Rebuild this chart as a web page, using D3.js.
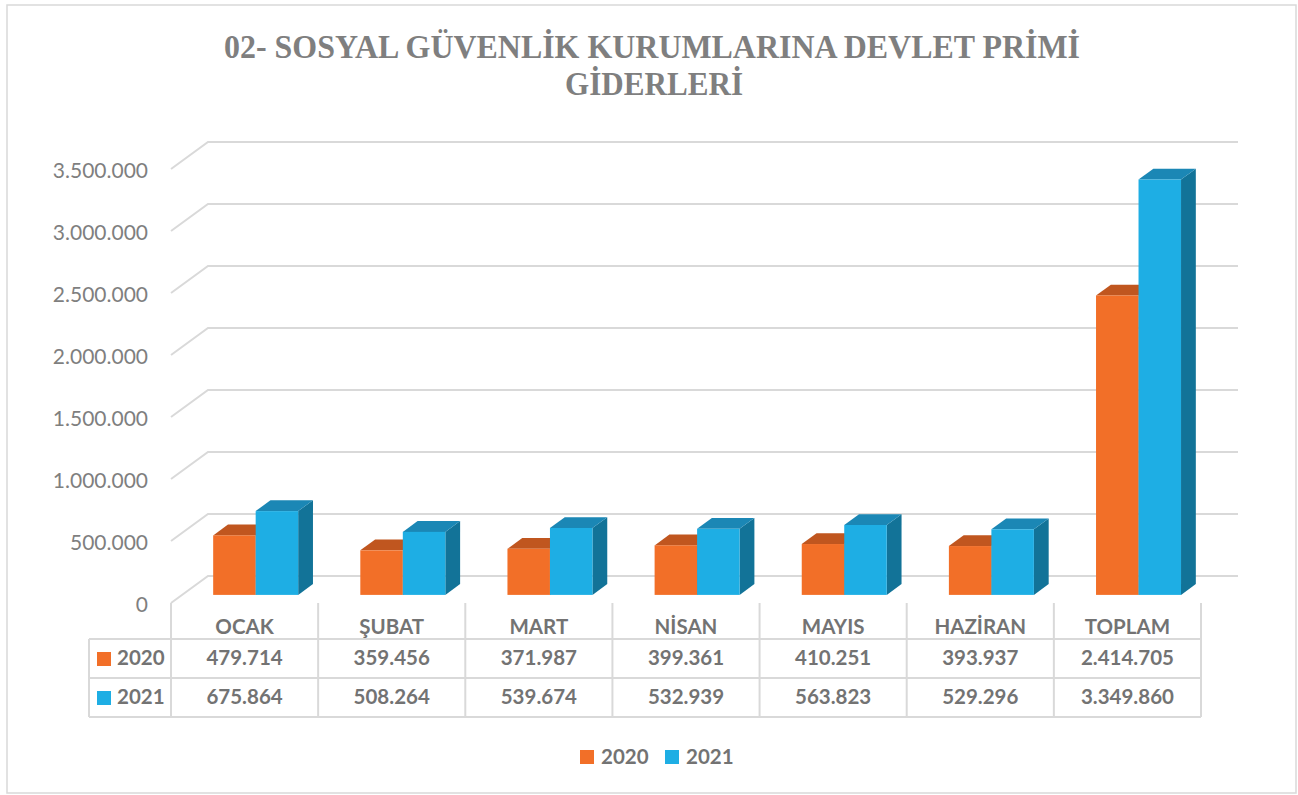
<!DOCTYPE html>
<html>
<head>
<meta charset="utf-8">
<script src="https://cdn.jsdelivr.net/npm/d3@7"></script>
<style>
  html, body { margin: 0; padding: 0; background: #ffffff; }
  svg { display: block; }
</style>
</head>
<body>
<svg id="chart" width="1298" height="795"></svg>
<script>
// ---------- DATA ----------
const categories = ["OCAK", "ŞUBAT", "MART", "NİSAN", "MAYIS", "HAZİRAN", "TOPLAM"];
const seriesNames = ["2020", "2021"];
const values2020 = [479714, 359456, 371987, 399361, 410251, 393937, 2414705];
const values2021 = [675864, 508264, 539674, 532939, 563823, 529296, 3349860];
const yTicks = [0, 500000, 1000000, 1500000, 2000000, 2500000, 3000000, 3500000];
const titleLines = ["02- SOSYAL GÜVENLİK KURUMLARINA DEVLET PRİMİ", "GİDERLERİ"];

// ---------- STYLE / LAYOUT ----------
const colors = {
  "2020": { front: "#F26F28", top: "#C0561F", side: "#B5501C" },
  "2021": { front: "#1EAEE4", top: "#1B87B5", side: "#127398" }
};
const gridColor = "#d9d9d9";
const textColor = "#737373";
const axisTextColor = "#7f7f7f";
const sans = "Lato, 'Open Sans', sans-serif";

const W = 1298, H = 795;
const x0 = 171, x1 = 1201;          // front plane extents
const yZero = 603, yTop = 169;      // front plane y for 0 and 3.5M
const DX = 37, DY = 27;             // depth offset of the back wall
const barFront = 0.3, barDepth = 0.4;

const svg = d3.select("#chart");

// outer border
svg.append("rect").attr("x", 7).attr("y", 5).attr("width", 1289).attr("height", 788)
  .attr("fill", "#fff").attr("stroke", gridColor).attr("stroke-width", 1.5);

// title
const title = svg.append("g").attr("fill", "#7f7f7f")
  .attr("font-family", "'Liberation Serif', 'Times New Roman', serif")
  .attr("font-weight", "bold").attr("font-size", 33).attr("text-anchor", "middle");
title.append("text").attr("x", 652).attr("y", 58).attr("textLength", 856)
  .attr("lengthAdjust", "spacingAndGlyphs").text(titleLines[0]);
title.append("text").attr("x", 654).attr("y", 95).attr("textLength", 178)
  .attr("lengthAdjust", "spacingAndGlyphs").text(titleLines[1]);

// scales
const y = d3.scaleLinear().domain([0, 3500000]).range([yZero, yTop]);
const x = d3.scaleBand().domain(categories).range([x0, x1]).padding(0);
const bw = 42.5;
const xs = d3.scaleBand().domain(seriesNames)
  .range([(x.bandwidth() - 2 * bw) / 2, (x.bandwidth() + 2 * bw) / 2]).padding(0);

const locale = d3.formatLocale({ decimal: ",", thousands: ".", grouping: [3], currency: ["", ""] });
const fmt = locale.format(",d");

// gridlines (floor + back wall)
const grid = svg.append("g");
yTicks.forEach(t => {
  const yy = y(t);
  grid.append("path")
    .attr("d", `M${x0},${yy} L${x0 + DX},${yy - DY} L${x1 + DX},${yy - DY}`)
    .attr("fill", "none").attr("stroke", gridColor).attr("stroke-width", 2);
});

// y axis labels
const yAxis = d3.axisLeft(y).tickValues(yTicks).tickFormat(fmt).tickSize(0).tickPadding(0);
const yg = svg.append("g").attr("transform", `translate(148,0)`).call(yAxis);
yg.select(".domain").remove();
yg.selectAll("text").attr("font-family", sans).attr("font-size", 21)
  .attr("fill", axisTextColor).attr("dy", null).attr("y", 8.5).attr("x", 0);

// bars
const seriesData = { "2020": values2020, "2021": values2021 };
const bars = svg.append("g");
categories.forEach((c, i) => {
  seriesNames.forEach(s => {
    const v = seriesData[s][i];
    const bx = x(c) + xs(s) + barFront * DX;
    const yb = y(0) - barFront * DY;
    const yt = y(v) - barFront * DY;
    const ddx = barDepth * DX, ddy = barDepth * DY;
    const col = colors[s];
    const g = bars.append("g");
    g.append("path")
      .attr("d", `M${bx + bw},${yt} L${bx + bw + ddx},${yt - ddy} L${bx + bw + ddx},${yb - ddy} L${bx + bw},${yb} Z`)
      .attr("fill", col.side);
    g.append("path")
      .attr("d", `M${bx},${yt} L${bx + ddx},${yt - ddy} L${bx + bw + ddx},${yt - ddy} L${bx + bw},${yt} Z`)
      .attr("fill", col.top);
    g.append("rect").attr("x", bx).attr("y", yt).attr("width", bw).attr("height", yb - yt)
      .attr("fill", col.front);
  });
});

// data table
const rowTop = [603, 639, 678, 717];
const legendX = 89;
const table = svg.append("g").attr("stroke", gridColor).attr("stroke-width", 2).attr("fill", "none");
[rowTop[1], rowTop[2], rowTop[3]].forEach(yy => {
  table.append("line").attr("x1", legendX).attr("x2", x1).attr("y1", yy).attr("y2", yy);
});
table.append("line").attr("x1", legendX).attr("x2", legendX).attr("y1", rowTop[1]).attr("y2", rowTop[3]);
categories.forEach(c => {
  table.append("line").attr("x1", x(c)).attr("x2", x(c)).attr("y1", rowTop[0]).attr("y2", rowTop[3]);
});
table.append("line").attr("x1", x1).attr("x2", x1).attr("y1", rowTop[0]).attr("y2", rowTop[3]);

const tt = svg.append("g").attr("font-family", sans).attr("font-weight", "bold")
  .attr("fill", textColor).attr("font-size", 20.5);
categories.forEach((c, i) => {
  const cx = x(c) + x.bandwidth() / 2;
  tt.append("text").attr("x", cx).attr("y", 634).attr("text-anchor", "middle").text(c);
  tt.append("text").attr("x", cx).attr("y", 665).attr("text-anchor", "middle").text(fmt(values2020[i]));
  tt.append("text").attr("x", cx).attr("y", 704).attr("text-anchor", "middle").text(fmt(values2021[i]));
});
seriesNames.forEach((s, k) => {
  const yy = k === 0 ? 652 : 691;
  svg.append("rect").attr("x", 97).attr("y", yy).attr("width", 14).attr("height", 14).attr("fill", colors[s].front);
  tt.append("text").attr("x", 117).attr("y", k === 0 ? 665 : 704).text(s);
});

// bottom legend
const legendPos = [580, 665];
seriesNames.forEach((s, k) => {
  svg.append("rect").attr("x", legendPos[k]).attr("y", 750).attr("width", 14).attr("height", 14)
    .attr("fill", colors[s].front);
  tt.append("text").attr("x", legendPos[k] + 21).attr("y", 764).text(s);
});
</script>
</body>
</html>
